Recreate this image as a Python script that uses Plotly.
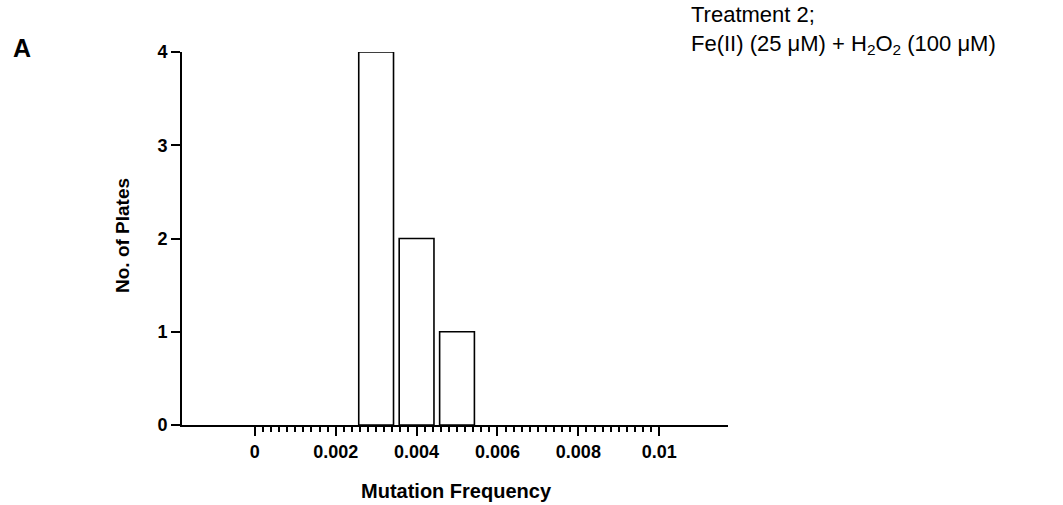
import plotly.graph_objects as go

# Histogram of mutation frequency per plate
bin_centers = [0.003, 0.004, 0.005]
plate_counts = [4, 2, 1]

x_major_ticks = [0, 0.002, 0.004, 0.006, 0.008, 0.01]
x_tick_labels = ["0", "0.002", "0.004", "0.006", "0.008", "0.01"]
y_ticks = [0, 1, 2, 3, 4]

W, H = 1063, 505
L, R, T, B = 182, 728, 52, 425  # plot area in pixels


def px_to_paper(px, py):
    return (px - L) / (R - L), (B - py) / (B - T)


minor_ticks = [round(i * 0.0002, 5) for i in range(51) if i % 10 != 0]

FONT = "Liberation Sans, Arial, sans-serif"

fig = go.Figure()
fig.add_trace(go.Bar(
    x=bin_centers,
    y=plate_counts,
    width=0.00086,
    marker=dict(color="white", line=dict(color="black", width=1.6)),
    showlegend=False,
))

fig.update_layout(
    width=W, height=H,
    margin=dict(l=L, r=W - R, t=T, b=H - B, pad=0),
    plot_bgcolor="white", paper_bgcolor="white",
    font=dict(family=FONT, color="black"),
    xaxis=dict(
        range=[-0.0018, 0.0117],
        showgrid=False, zeroline=False,
        showline=True, linecolor="black", linewidth=2,
        tickmode="array", tickvals=x_major_ticks, ticktext=x_tick_labels,
        ticks="outside", ticklen=9, tickwidth=2, tickcolor="black",
        tickfont=dict(size=18, weight=700, family=FONT),
        minor=dict(tickmode="array", tickvals=minor_ticks, ticks="outside",
                   ticklen=5, tickwidth=1.5, tickcolor="black"),
    ),
    yaxis=dict(
        range=[0, 4],
        showgrid=False, zeroline=False,
        showline=True, linecolor="black", linewidth=2,
        tickmode="array", tickvals=y_ticks,
        ticks="outside", ticklen=9, tickwidth=2, tickcolor="black",
        tickfont=dict(size=18, weight=700, family=FONT),
    ),
)


def label(text, px, py, size, weight=400, angle=0, xanchor="center",
          yanchor="middle"):
    ax, ay = px_to_paper(px, py)
    fig.add_annotation(text=text, x=ax, y=ay, xref="paper", yref="paper",
                       xanchor=xanchor, yanchor=yanchor, textangle=angle,
                       align="left", showarrow=False,
                       font=dict(size=size, weight=weight, family=FONT))


label("Mutation Frequency", 456, 491, 20, weight=700)
label("No. of Plates", 122, 236, 19, weight=700, angle=-90)
label("A", 22, 48, 25, weight=700)
label("Treatment 2;<br>Fe(II) (25 μM) + H<sub>2</sub>O<sub>2</sub> (100 μM)",
      689, 0, 22, xanchor="left", yanchor="top")

fig.write_html("out.html")
